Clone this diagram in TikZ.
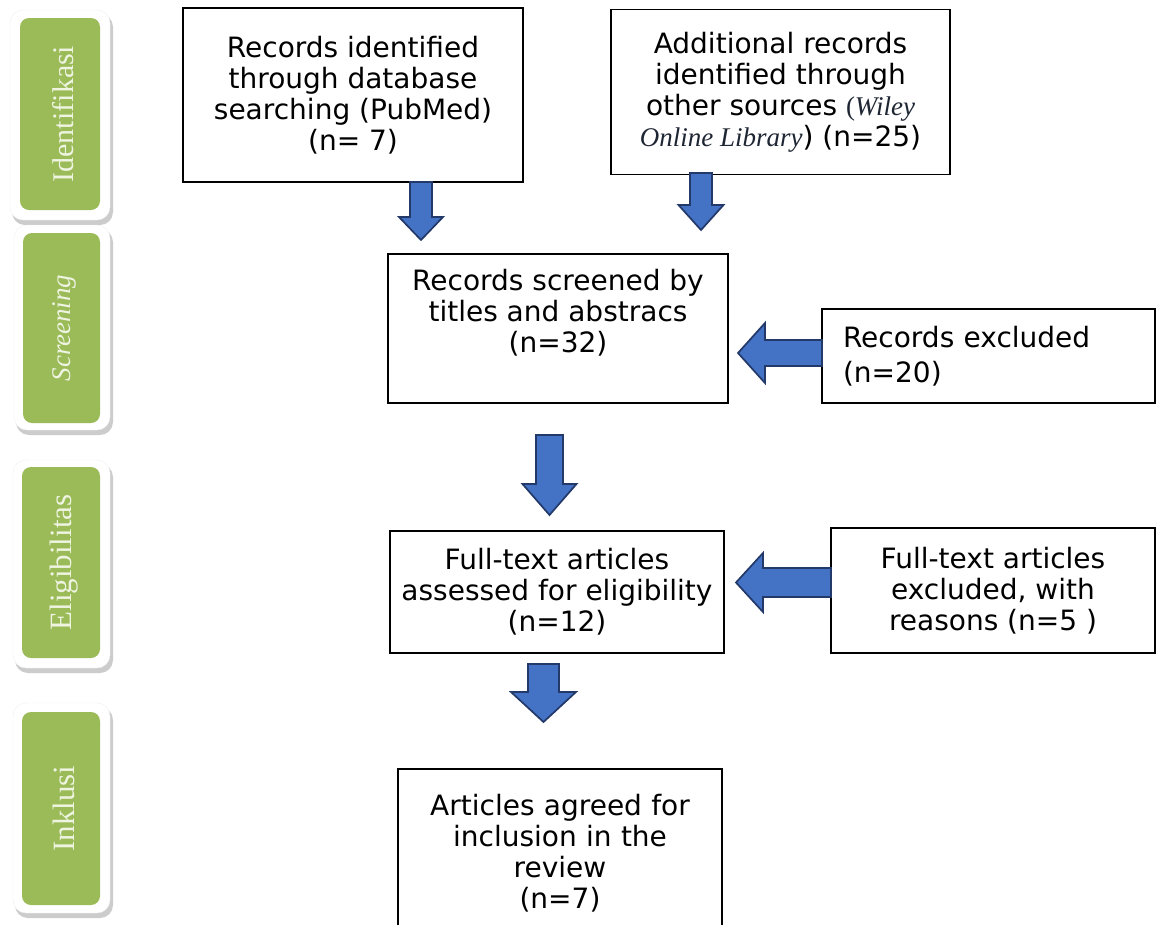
\documentclass[tikz,border=0pt]{standalone}
\usepackage{fontspec}
\setmainfont{DejaVu Sans}
\newfontfamily\tnr{Liberation Serif}
\definecolor{pillgreen}{HTML}{9BBB59}
\definecolor{pilltext}{HTML}{EEF4E0}
\definecolor{arrfill}{HTML}{4472C4}
\definecolor{arredge}{HTML}{22396A}
\definecolor{wileyc}{HTML}{1F2633}
\tikzset{
  flowbox/.style={draw=black, line width=1.6pt, fill=white, align=center, inner sep=4pt,
    font=\fontsize{28}{31}\selectfont},
  blockarrow/.style={fill=arrfill, draw=arredge, line width=1.7pt, line join=miter},
  pillshadow/.style={fill=black!20, rounded corners=13pt},
  pillouter/.style={fill=white, draw=black!6, rounded corners=13pt},
  pillinner/.style={fill=pillgreen, rounded corners=9pt},
  pilllabel/.style={text=pilltext, rotate=90, font=\tnr\fontsize{31}{33}\selectfont}
}
\newcommand{\dArrow}[6]{%
  \draw[blockarrow] (#1-#3,#2) -- (#1+#3,#2) -- (#1+#3,#5) -- (#1+#4,#5) -- (#1,#6)
    -- (#1-#4,#5) -- (#1-#3,#5) -- cycle;}
\newcommand{\lArrow}[7]{% tail x, shaft top y, shaft bottom y, head back x, head top y, head bottom y, tip x
  \draw[blockarrow] (#1,#2) -- (#4,#2) -- (#4,#5) -- (#7,{(#5+#6)/2}) -- (#4,#6)
    -- (#4,#3) -- (#1,#3) -- cycle;}
\newcommand{\pill}[9]{% ox1 oy1 ox2 oy2 ix1 iy1 ix2 iy2 text
  \fill[pillshadow] (#1+2,#2+4) rectangle (#3+3,#4+5);
  \draw[pillouter] (#1,#2) rectangle (#3,#4);
  \fill[pillinner] (#5,#6) rectangle (#7,#8);
  \node[pilllabel] at ({(#5+#7)/2+3},{(#6+#8)/2}) {#9};}
\begin{document}
\begin{tikzpicture}[x=1pt,y=-1pt]
\useasboundingbox[fill=white] (0,0) rectangle (1157,924);

% stage labels
\pill{10}{10}{110}{220}{20}{18}{100}{210}{\fontsize{30}{32}\selectfont Identifikasi}
\pill{14}{225}{110}{430}{23}{233}{100}{423}{\itshape\fontsize{27}{29}\selectfont Screening}
\pill{13}{460}{110}{668}{22}{467}{100}{658}{Eligibilitas}
\pill{13}{703}{110}{913}{22}{712}{100}{905}{Inklusi}

% boxes
\node[flowbox, minimum width=340pt, minimum height=174pt] (ident) at (353,95)
  {Records identified\\through database\\searching (PubMed)\\(n= 7)};
\node[flowbox, minimum width=339pt, minimum height=165pt] (other) at (780.5,92)
  {Additional records\\identified through\\other sources {\tnr\fontsize{27}{31}\selectfont\color{wileyc}(\itshape Wiley}\\{\tnr\fontsize{27}{31}\selectfont\itshape\color{wileyc}Online Library})\ (n=25)};
\node[flowbox, minimum width=340pt, minimum height=149pt] (screen) at (558,328.5)
  {Records screened by\\titles and abstracs\\(n=32)\rule[-35pt]{0pt}{35pt}};
\node[flowbox, minimum width=333pt, minimum height=94pt, align=left, text width=291pt, inner xsep=21pt,
  font=\fontsize{28}{35}\selectfont] (excl) at (988.5,356)
  {Records excluded\\(n=20)};
\node[flowbox, minimum width=334pt, minimum height=122pt] (full) at (557,592)
  {Full-text articles\\assessed for eligibility\\(n=12)};
\node[flowbox, minimum width=324pt, minimum height=125pt] (fullexcl) at (993,590.5)
  {Full-text articles\\excluded, with\\reasons (n=5 )};
\node[flowbox, anchor=north, text width=316pt] (incl) at (560,768)
  {\rule{0pt}{43pt}Articles agreed for\\inclusion in the\\review\\(n=7)\rule[-30pt]{0pt}{30pt}};

% arrows
\dArrow{421}{182}{11}{22}{217}{240}
\dArrow{701}{173}{11}{22.5}{205}{230}
\dArrow{549.5}{435}{13.5}{27}{484}{515}
\dArrow{543.5}{664}{15.5}{32.5}{692}{722}
\lArrow{822}{340}{366}{765}{323}{383}{738}
\lArrow{831}{568}{597}{763}{553}{612}{736}
\end{tikzpicture}
\end{document}
